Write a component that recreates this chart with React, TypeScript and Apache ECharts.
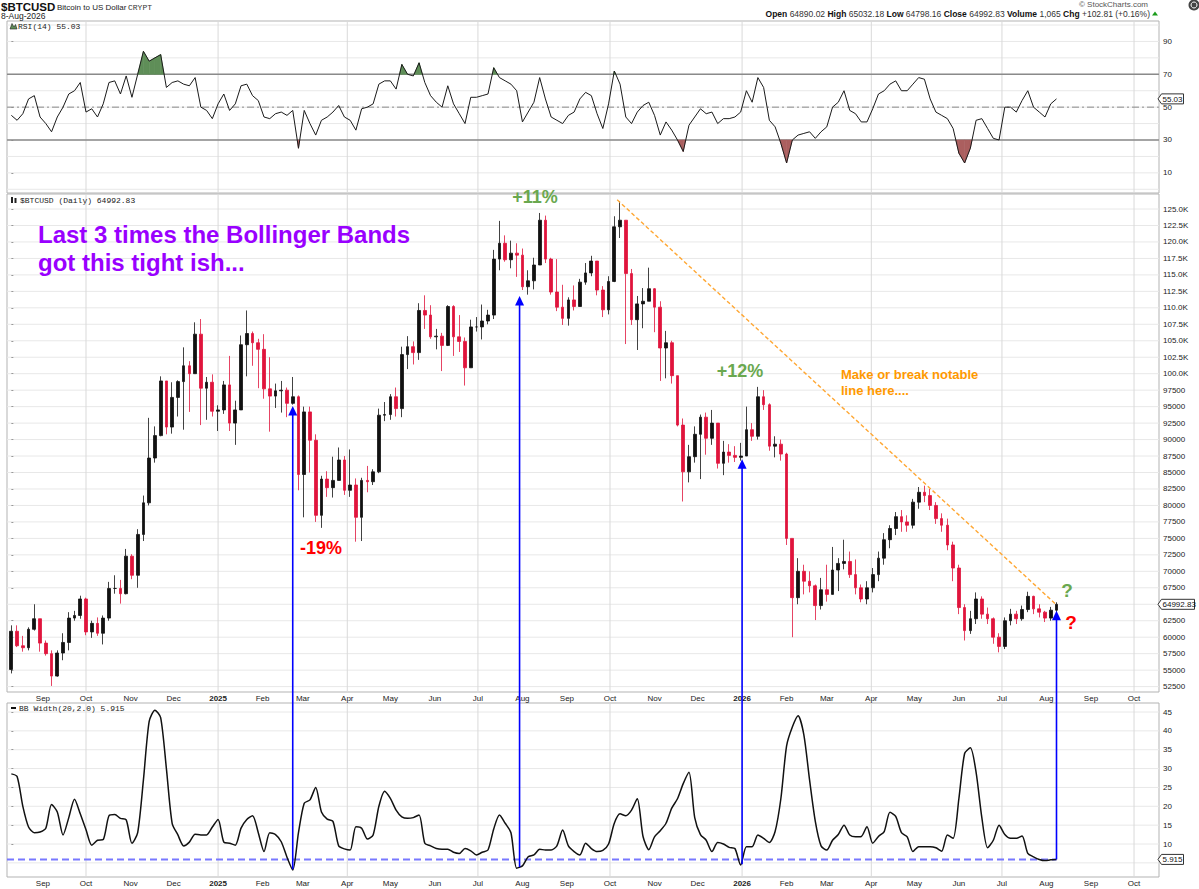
import React, { useEffect, useRef } from 'react';
import * as echarts from 'echarts';

// ---------- data (values in thousands of USD for price) ----------
const startDate = '2024-08-10';
const stepDays = 4;
const firstOpenK = 55.1;

const closeK = [
  60.9, 58.7, 58.4, 61.2, 62.8, 59.1, 57.5, 54.1, 57.6, 59.2,
  62.9, 63.3, 65.8, 60.8, 62.1, 60.6, 62.9, 67.4, 67.4, 66.6,
  72.3, 69.4, 75.6, 80.4, 87.2, 90.6, 98.9, 91.9, 96.4, 98.8,
  101.2, 100.0, 106.0, 97.8, 98.7, 94.3, 94.5, 98.3, 92.5, 94.5,
  104.4, 106.1, 104.7, 103.7, 97.7, 96.6, 97.4, 97.5, 95.5, 96.5,
  84.7, 94.2, 89.9, 78.5, 84.0, 82.7, 83.8, 86.9, 82.3, 83.1,
  78.2, 83.8, 83.6, 85.1, 93.7, 93.8, 96.5, 94.7, 102.9, 104.1,
  103.2, 109.6, 108.9, 105.6, 105.7, 104.3, 110.2, 105.6, 104.9, 100.9,
  107.1, 107.1, 108.0, 108.9, 117.4, 119.8, 117.3, 118.3, 118.0, 113.2,
  114.1, 116.5, 123.3, 117.4, 112.4, 110.1, 108.4, 111.2, 110.2, 113.9,
  115.3, 117.1, 112.7, 109.7, 114.0, 122.3, 123.3, 115.2, 108.2, 110.6,
  111.0, 112.9, 110.1, 103.9, 104.7, 99.7, 92.2, 85.1, 87.4, 90.8,
  93.4, 90.2, 92.5, 86.4, 88.1, 87.6, 87.3, 87.5, 91.5, 90.5,
  96.5, 95.3, 89.0, 89.3, 87.8, 75.0, 66.0, 70.0, 68.5, 67.8,
  64.8, 67.2, 66.5, 70.2, 71.2, 71.5, 69.5, 67.5, 65.8, 67.5,
  69.5, 72.0, 74.8, 76.5, 78.3, 77.5, 77.0, 80.5, 82.0, 81.5,
  80.0, 78.0, 77.0, 74.0, 70.5, 64.5, 61.0, 62.8, 65.8, 63.5,
  62.8, 60.0, 58.6, 62.5, 63.5, 62.8, 64.2, 66.2, 64.3, 63.8,
  62.9, 64.1, 64.99283,
];

const highK = [
  61.8, 61.8, 60.2, 61.5, 65.0, 62.8, 59.5, 58.0, 58.0, 60.6,
  63.8, 64.0, 66.3, 66.0, 62.5, 63.0, 63.3, 68.4, 69.4, 68.7,
  73.4, 72.6, 76.4, 81.5, 93.3, 92.0, 99.6, 98.8, 98.7, 99.0,
  104.0, 101.9, 107.8, 108.3, 99.5, 99.9, 95.2, 98.9, 102.7, 95.9,
  105.8, 109.6, 106.4, 105.3, 106.0, 102.5, 98.5, 98.9, 97.9, 99.5,
  96.7, 95.0, 95.0, 90.8, 84.5, 85.2, 87.4, 88.8, 87.5, 88.5,
  84.1, 84.2, 86.0, 85.5, 94.7, 95.7, 96.9, 97.9, 104.1, 105.7,
  104.9, 110.7, 111.9, 110.4, 106.8, 106.2, 110.4, 110.4, 108.9, 105.5,
  108.2, 108.6, 110.5, 109.7, 118.8, 123.2, 121.0, 120.2, 119.8, 119.0,
  115.7, 117.6, 124.4, 124.0, 117.6, 117.4, 113.5, 111.6, 113.4, 114.4,
  116.8, 117.9, 116.0, 113.3, 114.8, 123.9, 126.2, 123.0, 115.9, 111.8,
  113.0, 116.1, 113.0, 111.0, 106.5, 105.0, 99.5, 93.2, 89.2, 92.0,
  93.8, 94.1, 94.5, 92.5, 89.8, 89.3, 89.0, 89.5, 95.0, 92.5,
  98.0, 97.5, 95.5, 90.5, 90.0, 88.0, 75.0, 72.0, 71.0, 70.0,
  68.0, 69.0, 71.0, 73.7, 72.0, 74.8, 73.0, 71.8, 68.0, 68.5,
  70.5, 73.0, 75.8, 77.0, 79.0, 79.3, 78.5, 81.0, 82.8, 83.0,
  82.5, 80.5, 78.8, 78.0, 74.5, 71.0, 65.0, 64.0, 66.8, 66.2,
  64.5, 63.0, 60.6, 63.0, 64.3, 64.0, 64.8, 66.9, 66.3, 65.0,
  64.0, 64.6, 65.3,
];

const lowK = [
  54.5, 58.5, 57.8, 58.0, 61.0, 57.8, 57.2, 52.6, 54.0, 56.5,
  58.0, 62.5, 62.8, 60.3, 59.9, 60.2, 58.9, 62.5, 66.6, 65.1,
  66.5, 68.8, 67.5, 74.6, 80.0, 86.5, 90.5, 90.8, 90.9, 93.5,
  91.5, 94.2, 100.0, 92.2, 93.0, 93.5, 91.3, 93.9, 91.3, 89.2,
  94.5, 99.6, 101.2, 97.8, 96.2, 91.2, 94.8, 94.1, 93.4, 95.3,
  82.3, 78.2, 85.0, 77.5, 76.6, 81.3, 81.2, 83.8, 81.6, 81.3,
  74.5, 74.6, 82.0, 83.1, 84.9, 92.8, 93.0, 93.5, 93.4, 100.7,
  101.4, 102.1, 106.8, 105.3, 103.7, 100.4, 104.2, 102.7, 103.3, 98.2,
  100.9, 106.4, 105.2, 107.5, 108.3, 115.7, 117.0, 116.0, 114.7, 112.7,
  112.0, 112.8, 117.2, 116.8, 112.0, 109.5, 107.4, 107.3, 109.6, 110.2,
  113.5, 114.8, 111.9, 108.6, 109.0, 113.9, 120.6, 104.5, 107.4, 103.6,
  106.9, 111.9, 106.3, 98.9, 99.3, 98.5, 92.0, 80.6, 83.5, 86.5,
  84.0, 87.7, 89.2, 85.6, 84.6, 86.5, 86.6, 86.8, 87.5, 89.8,
  90.0, 94.5, 88.3, 87.3, 86.8, 74.0, 60.0, 65.0, 66.5, 66.8,
  62.6, 64.2, 65.4, 66.5, 67.0, 70.3, 69.0, 66.5, 65.3, 65.0,
  66.8, 68.5, 71.0, 73.5, 75.5, 76.0, 76.0, 76.5, 79.5, 80.5,
  79.3, 77.2, 76.0, 73.2, 68.5, 63.5, 59.5, 60.5, 62.0, 62.8,
  62.0, 59.0, 57.7, 58.2, 61.8, 62.0, 62.5, 63.8, 63.5, 63.0,
  62.3, 62.5, 63.8,
];

const rsi14 = [
  45, 42, 46, 55, 57, 44, 40, 35, 44, 50,
  58, 60, 65, 47, 49, 44, 52, 65, 66, 58,
  69, 56, 70, 84, 78, 80, 82, 62, 65, 66,
  64, 63, 68, 50, 48, 43, 52, 58, 48, 52,
  63, 64, 57, 54, 44, 43, 46, 47, 45, 48,
  25, 48, 40, 33, 42, 44, 47, 51, 44, 42,
  36, 49, 50, 52, 64, 66, 66, 61, 76, 70,
  69, 77, 65, 57, 53, 50, 63, 52, 46, 40,
  56, 56, 57, 58, 74, 68, 66, 64, 60, 41,
  47, 53, 68, 55, 44, 42, 40, 45, 47, 55,
  59, 57, 46, 37, 52, 72, 64, 44, 40, 47,
  51, 53, 45, 33, 41, 36, 30, 23, 39, 44,
  49, 46, 47, 40, 43, 43, 44, 47, 60, 53,
  68, 62, 42, 38, 28, 16, 30, 33, 34, 35,
  31, 35, 38, 50, 53, 60, 48, 46, 41, 41,
  49, 58, 60, 64, 66, 60, 60, 64, 68, 67,
  55, 47, 45, 43, 37, 22, 16, 25, 42, 43,
  37, 31, 30, 50, 50, 47, 54, 60, 50, 47,
  44, 52, 55.03,
];

const bbWidth = [
  28.6, 27.9, 20, 14.5, 13, 13.2, 14.2, 20.5, 18.5, 12.4,
  17, 21.9, 18, 13.8, 9.7, 11, 11.2, 17.5, 17.8, 16.8,
  16.4, 10.2, 13, 27, 42.5, 45.5, 43.5, 30, 15.5, 12.4,
  9.5, 10.5, 12.6, 12.4, 12.4, 14.5, 16.5, 10.5, 10.2, 9.7,
  14.2, 16.5, 17.5, 13, 8, 13, 12.5, 10.6, 6.5, 3.1,
  13, 20.8, 21.7, 25, 18.5, 16.6, 16, 9.5, 8.7, 8.4,
  14.6, 14.2, 11.3, 12.4, 20, 24, 22.1, 19, 17.2, 16.8,
  17, 17.7, 10.2, 9.5, 8.8, 8.6, 8.6, 7.8, 7.5, 8.8,
  8.2, 7.1, 7.8, 8.4, 14, 17.7, 15.5, 13, 3.6, 4.2,
  6.6, 7.1, 8.6, 8.4, 8.4, 9.5, 13.7, 9.5, 8, 7.1,
  10.2, 8.8, 8, 8.3, 10, 15.5, 18, 17.5, 19, 22,
  12, 8.5, 11.9, 13.5, 15.5, 19.5, 22, 26, 29, 17,
  12.5, 11, 8, 10.4, 10, 9.1, 8.8, 4.4, 9.3, 9.3,
  12.4, 11.5, 10.4, 13.3, 22, 36, 41, 44, 39, 27,
  16, 9.5, 8.4, 11, 12.5, 15, 12.4, 11.9, 12, 14.6,
  10.2, 12, 13.3, 18.4, 17.3, 13, 11.9, 8, 9.3, 9.3,
  9.3, 9, 8.1, 12.4, 11.5, 22, 34, 35.5, 29, 17,
  9, 11, 15, 12.5, 11.5, 11.5, 12.1, 7.5, 6.6, 5.9,
  5.6, 5.8, 5.915,
];

const monthTicks = [
  '2024-09-01', '2024-10-01', '2024-11-01', '2024-12-01', '2025-01-01', '2025-02-01',
  '2025-03-01', '2025-04-01', '2025-05-01', '2025-06-01', '2025-07-01', '2025-08-01',
  '2025-09-01', '2025-10-01', '2025-11-01', '2025-12-01', '2026-01-01', '2026-02-01',
  '2026-03-01', '2026-04-01', '2026-05-01', '2026-06-01', '2026-07-01', '2026-08-01',
  '2026-09-01', '2026-10-01',
];
const monthLabels = [
  'Sep', 'Oct', 'Nov', 'Dec', '2025', 'Feb', 'Mar', 'Apr', 'May', 'Jun', 'Jul', 'Aug',
  'Sep', 'Oct', 'Nov', 'Dec', '2026', 'Feb', 'Mar', 'Apr', 'May', 'Jun', 'Jul', 'Aug',
  'Sep', 'Oct',
];
const quarterTicks = [
  '2024-10-01', '2025-01-01', '2025-04-01', '2025-07-01', '2025-10-01',
  '2026-01-01', '2026-04-01', '2026-07-01', '2026-10-01',
];
const rsiTicks = [10, 30, 50, 70, 90];
const rsiGridVals = [0, 10, 20, 30, 40, 50, 60, 70, 80, 90, 100];
const priceGridVals = [
  52.5, 55, 57.5, 60, 62.5, 65, 67.5, 70, 72.5, 75, 77.5, 80, 82.5, 85, 87.5,
  90, 92.5, 95, 97.5, 100, 102.5, 105, 107.5, 110, 112.5, 115, 117.5, 120, 122.5, 125,
];
// the 65000 label is covered by the last-price box in the reference
const priceTicks = [
  52.5, 55, 57.5, 60, 62.5, 67.5, 70, 72.5, 75, 77.5, 80, 82.5, 85, 87.5,
  90, 92.5, 95, 97.5, 100, 102.5, 105, 107.5, 110, 112.5, 115, 117.5, 120, 122.5, 125,
];
const bbGridVals = [5, 10, 15, 20, 25, 30, 35, 40, 45];
const bbTicks = [10, 15, 20, 25, 30, 35, 40, 45];

// annotations
const arrowDates = ['2025-02-22', '2025-07-30', '2026-01-01', '2026-08-08'];
const arrowTopK = [95.1, 111.8, 87.0, 64.0];
const arrowBottomBB = [3.3, 3.9, 4.6, 5.915];
const trendDates = ['2025-10-06', '2026-08-07'];
const trendK = [126.4, 65.1];
const bbBaseline = 5.915;

// ---------- helpers ----------
const DAY_MS = 86400000;
const T0 = Date.parse(startDate + 'T00:00:00Z');
const dayOf = (s: string) => Math.round((Date.parse(s + 'T00:00:00Z') - T0) / DAY_MS);
const days = closeK.map((_, i) => i * stepDays);

const X_MIN = -3.03, X_MAX = 799.4;
const RSI_MIN = -2.27, RSI_MAX = 102.45;
const PRICE_MIN = 51.68, PRICE_MAX = 127.28;
const BB_MIN = 1.25, BB_MAX = 47.39;

const SANS = '"Liberation Sans", Arial, Helvetica, sans-serif';
const MONO = '"Liberation Mono", "DejaVu Sans Mono", monospace';

function gridSeries(k: number, hVals: number[], quarterDays: number[], yMid: number) {
  return {
    type: 'custom',
    xAxisIndex: k,
    yAxisIndex: k,
    z: 0,
    silent: true,
    data: [
      ...hVals.map((v) => [X_MIN, v, 0]),
      ...quarterDays.map((d) => [d, yMid, 1]),
    ],
    encode: { x: 0, y: 1 },
    renderItem: (params: any, api: any) => {
      const cs = params.coordSys;
      const kind = api.value(2);
      if (kind === 0) {
        const y = api.coord([X_MIN, api.value(1)])[1];
        if (y < cs.y - 0.5 || y > cs.y + cs.height + 0.5) return null;
        return {
          type: 'line',
          shape: { x1: cs.x, y1: y, x2: cs.x + cs.width, y2: y },
          style: { stroke: '#e8e8e8', lineWidth: 1 },
        };
      }
      const x = api.coord([api.value(0), yMid])[0];
      if (x < cs.x || x > cs.x + cs.width) return null;
      return {
        type: 'line',
        shape: { x1: x, y1: cs.y, x2: x, y2: cs.y + cs.height },
        style: { stroke: '#d9d9d9', lineWidth: 1 },
      };
    },
  };
}

function buildOption() {
  const monthDays = monthTicks.map(dayOf);
  const quarterDays = quarterTicks.map(dayOf);
  const labelFor = (v: number) => {
    const k = monthDays.indexOf(Math.round(v));
    if (k < 0) return '';
    const s = monthLabels[k];
    return /^\d{4}$/.test(s) ? '{y|' + s + '}' : s;
  };
  const axisFont = { fontFamily: SANS, fontSize: 8, color: '#222' };

  const grids = [
    { left: 7, right: 40, top: 21, height: 172 },
    { left: 7, right: 40, top: 194, height: 498 },
    { left: 7, right: 40, top: 703, height: 174 },
  ].map((g) => ({ ...g, show: true, borderColor: '#b3b3b3', borderWidth: 1, backgroundColor: '#fff' }));

  const xAxis = [0, 1, 2].map((k) => ({
    type: 'value',
    gridIndex: k,
    min: X_MIN,
    max: X_MAX,
    axisLine: { show: false },
    splitLine: { show: false },
    axisTick: { show: false },
    axisLabel:
      k === 0
        ? { show: false }
        : {
            show: true,
            customValues: monthDays,
            margin: 2,
            ...axisFont,
            formatter: labelFor,
            rich: { y: { fontWeight: 'bold', fontSize: 8, fontFamily: SANS, color: '#222' } },
          },
  }));

  const yBase = (k: number, min: number, max: number, ticks: number[], fmt: (v: number) => string) => ({
    type: 'value',
    gridIndex: k,
    position: 'right',
    min,
    max,
    axisLine: { show: false },
    splitLine: { show: false },
    axisTick: { show: true, length: 2, customValues: ticks, lineStyle: { color: '#999' } },
    axisLabel: { customValues: ticks, margin: 4, ...axisFont, formatter: fmt },
  });

  const yAxis = [
    yBase(0, RSI_MIN, RSI_MAX, rsiTicks, (v) => String(v)),
    yBase(1, PRICE_MIN, PRICE_MAX, priceTicks, (v) =>
      v >= 100 ? v.toFixed(1) + 'K' : String(Math.round(v * 1000))
    ),
    yBase(2, BB_MIN, BB_MAX, bbTicks, (v) => String(v)),
  ];

  const rsiPts = days.map((d, i) => [d, rsi14[i]]);
  const candles = days.map((d, i) => {
    const o = i === 0 ? firstOpenK : closeK[i - 1];
    const c = closeK[i];
    return [d, o, c, Math.min(lowK[i], o, c), Math.max(highK[i], o, c)];
  });
  const bbPts = days.map((d, i) => [d, bbWidth[i]]);

  const levelLine = (v: number, style: any) => ({
    type: 'line',
    xAxisIndex: 0,
    yAxisIndex: 0,
    z: 1,
    silent: true,
    symbol: 'none',
    data: [[X_MIN, v], [X_MAX, v]],
    lineStyle: style,
  });

  const rsiFill = {
    type: 'custom',
    xAxisIndex: 0,
    yAxisIndex: 0,
    z: 2,
    silent: true,
    data: rsiPts,
    encode: { x: 0, y: 1 },
    renderItem: (params: any, api: any) => {
      const i = params.dataIndex;
      if (i >= rsi14.length - 1) return null;
      const x0 = days[i], x1 = days[i + 1];
      const v0 = rsi14[i], v1 = rsi14[i + 1];
      const children: any[] = [];
      const poly = (T: number, above: boolean, color: string) => {
        const f0 = above ? v0 - T : T - v0;
        const f1 = above ? v1 - T : T - v1;
        if (f0 <= 0 && f1 <= 0) return;
        let pts: number[][];
        if (f0 > 0 && f1 > 0) pts = [[x0, T], [x0, v0], [x1, v1], [x1, T]];
        else {
          const t = f0 / (f0 - f1);
          const xc = x0 + t * (x1 - x0);
          pts = f0 > 0 ? [[x0, T], [x0, v0], [xc, T]] : [[xc, T], [x1, v1], [x1, T]];
        }
        children.push({
          type: 'polygon',
          shape: { points: pts.map((p) => api.coord(p)) },
          style: { fill: color, stroke: color, lineWidth: 0.6 },
        });
      };
      poly(70, true, '#5f8e58');
      poly(30, false, '#ab5f5f');
      return { type: 'group', children };
    },
  };

  return {
    animation: false,
    backgroundColor: '#fff',
    grid: grids,
    xAxis,
    yAxis,
    series: [
      gridSeries(0, rsiGridVals, quarterDays, 50),
      gridSeries(1, priceGridVals, quarterDays, 90),
      gridSeries(2, bbGridVals, quarterDays, 20),
      levelLine(70, { color: '#8a8a8a', width: 1.4 }),
      levelLine(30, { color: '#8a8a8a', width: 1.4 }),
      levelLine(50, { color: '#8a8a8a', width: 1, type: [7, 3, 2, 3] }),
      rsiFill,
      {
        type: 'line',
        xAxisIndex: 0,
        yAxisIndex: 0,
        z: 3,
        silent: true,
        symbol: 'none',
        data: rsiPts,
        lineStyle: { color: '#1a1a1a', width: 1 },
      },
      {
        type: 'candlestick',
        xAxisIndex: 1,
        yAxisIndex: 1,
        z: 3,
        silent: true,
        dimensions: ['day', 'open', 'close', 'lowest', 'highest'],
        encode: { x: 'day', y: ['open', 'close', 'lowest', 'highest'] },
        barWidth: 3.2,
        data: candles,
        itemStyle: {
          color: '#111111',
          color0: '#e0143c',
          borderColor: '#111111',
          borderColor0: '#e0143c',
          borderWidth: 0.8,
        },
      },
      {
        type: 'line',
        xAxisIndex: 1,
        yAxisIndex: 1,
        z: 4,
        silent: true,
        symbol: 'none',
        data: trendDates.map((s, k) => [dayOf(s), trendK[k]]),
        lineStyle: { color: '#ffa733', width: 1.4, type: [4, 2.5] },
      },
      {
        type: 'line',
        xAxisIndex: 2,
        yAxisIndex: 2,
        z: 2,
        silent: true,
        symbol: 'none',
        data: [[X_MIN, bbBaseline], [days[days.length - 1], bbBaseline]],
        lineStyle: { color: '#7878ff', width: 2, type: [7, 4] },
      },
      {
        type: 'line',
        xAxisIndex: 2,
        yAxisIndex: 2,
        z: 3,
        silent: true,
        symbol: 'none',
        smooth: 0.25,
        data: bbPts,
        lineStyle: { color: '#111', width: 1.5 },
      },
    ],
  };
}

function buildGraphics(chart: any) {
  const g: any[] = [];
  const T = (x: number, y: number, text: string, font: string, fill: string, align = 'left') =>
    g.push({ type: 'text', x, y, z: 60, silent: true, style: { text, font, fill, align, verticalAlign: 'middle' } });

  // header
  T(1, 6.5, '$BTCUSD', `bold 11.5px ${SANS}`, '#111');
  T(57, 7, 'Bitcoin to US Dollar', `8px ${SANS}`, '#222');
  T(128, 7, 'CRYPT', `8px ${MONO}`, '#333');
  T(1, 15.5, '8-Aug-2026', `8.5px ${SANS}`, '#222');
  T(1148, 4.5, '\u00a9 StockCharts.com', `8px ${SANS}`, '#555', 'right');
  g.push({
    type: 'text',
    x: 1150,
    y: 14,
    z: 60,
    silent: true,
    style: {
      text:
        '{b|Open} 64890.02 {b|High} 65032.18 {b|Low} 64798.16 {b|Close} 64992.83 {b|Volume} 1,065 {b|Chg} +102.81 (+0.16%)',
      font: `8.5px ${SANS}`,
      fill: '#333',
      align: 'right',
      verticalAlign: 'middle',
      rich: { b: { font: `bold 8.5px ${SANS}`, fill: '#111' } },
    },
  });
  g.push({ type: 'polygon', z: 60, silent: true, shape: { points: [[1152, 15.5], [1155, 11.5], [1158, 15.5]] }, style: { fill: '#1a9c1a' } });
  g.push({ type: 'circle', z: 60, silent: true, shape: { cx: 1194, cy: 5, r: 5.5 }, style: { fill: '#444' } });
  g.push({ type: 'circle', z: 61, silent: true, shape: { cx: 1194, cy: 5, r: 3 }, style: { fill: 'none', stroke: '#fff', lineWidth: 1 } });

  // panel legends
  g.push({ type: 'polygon', z: 60, silent: true, shape: { points: [[10, 29], [12, 23.5], [14, 27], [15.5, 24.5], [17, 29]] }, style: { fill: '#5f8e58', stroke: '#222', lineWidth: 0.6 } });
  T(18, 26, 'RSI(14) ' + rsi14[rsi14.length - 1].toFixed(2), `8px ${MONO}`, '#222');
  g.push({ type: 'rect', z: 60, silent: true, shape: { x: 11, y: 197, width: 2, height: 6 }, style: { fill: '#222' } });
  g.push({ type: 'rect', z: 60, silent: true, shape: { x: 14.5, y: 198, width: 2, height: 5 }, style: { fill: '#222' } });
  T(20, 200, '$BTCUSD (Daily) ' + (closeK[closeK.length - 1] * 1000).toFixed(2), `8px ${MONO}`, '#222');
  g.push({ type: 'rect', z: 60, silent: true, shape: { x: 11, y: 707, width: 5, height: 2 }, style: { fill: '#111' } });
  T(19, 708, 'BB Width(20,2.0) ' + String(bbWidth[bbWidth.length - 1]), `8px ${MONO}`, '#222');

  // annotation texts
  T(38, 234, 'Last 3 times the Bollinger Bands', `bold 24px ${SANS}`, '#9900ff');
  T(38, 262, 'got this tight ish...', `bold 24px ${SANS}`, '#9900ff');
  T(535, 197, '+11%', `bold 18px ${SANS}`, '#6aa84f', 'center');
  T(740, 371, '+12%', `bold 18px ${SANS}`, '#6aa84f', 'center');
  T(321, 548, '-19%', `bold 18px ${SANS}`, '#ff0000', 'center');
  T(841, 374.5, 'Make or break notable', `bold 13px ${SANS}`, '#ff9900');
  T(841, 390, 'line here....', `bold 13px ${SANS}`, '#ff9900');
  T(1067, 590, '?', `bold 19px ${SANS}`, '#6aa84f', 'center');
  T(1071, 622, '?', `bold 19px ${SANS}`, '#ff0000', 'center');

  // blue arrows from BB width lows up to price
  arrowDates.forEach((ds, k) => {
    const d = dayOf(ds);
    const top = chart.convertToPixel({ gridIndex: 1 }, [d, arrowTopK[k]]);
    const bot = chart.convertToPixel({ gridIndex: 2 }, [d, arrowBottomBB[k]]);
    const x = top[0];
    g.push({ type: 'line', z: 55, silent: true, shape: { x1: x, y1: top[1] + 8, x2: x, y2: bot[1] }, style: { stroke: '#0000ff', lineWidth: 1.6 } });
    g.push({ type: 'polygon', z: 56, silent: true, shape: { points: [[x, top[1]], [x - 4.5, top[1] + 9.5], [x + 4.5, top[1] + 9.5]] }, style: { fill: '#0000ff' } });
  });

  // value boxes on the right axis
  const box = (y: number, text: string, w: number) => {
    g.push({
      type: 'polygon',
      z: 58,
      silent: true,
      shape: { points: [[1158, y], [1161.5, y - 5], [1161.5 + w, y - 5], [1161.5 + w, y + 5], [1161.5, y + 5]] },
      style: { fill: '#fff', stroke: '#333', lineWidth: 1 },
    });
    T(1162.5, y + 0.5, text, `8px ${SANS}`, '#111');
  };
  const lastDay = days[days.length - 1];
  const lastClose = closeK[closeK.length - 1];
  const lastRsi = rsi14[rsi14.length - 1];
  const lastBB = bbWidth[bbWidth.length - 1];
  box(chart.convertToPixel({ gridIndex: 1 }, [lastDay, lastClose])[1], (lastClose * 1000).toFixed(2), 33);
  box(chart.convertToPixel({ gridIndex: 0 }, [lastDay, lastRsi])[1], lastRsi.toFixed(2), 22);
  box(chart.convertToPixel({ gridIndex: 2 }, [lastDay, lastBB])[1], String(lastBB), 22);

  return g;
}

export default function App() {
  const ref = useRef<HTMLDivElement>(null);
  useEffect(() => {
    if (!ref.current) return;
    const chart = echarts.init(ref.current, null, { renderer: 'svg' });
    chart.setOption(buildOption() as any);
    chart.setOption({ graphic: buildGraphics(chart) } as any);
    return () => chart.dispose();
  }, []);
  return (
    <div
      ref={ref}
      style={{ position: 'absolute', left: 0, top: 0, width: 1199, height: 889, background: '#fff' }}
    />
  );
}
